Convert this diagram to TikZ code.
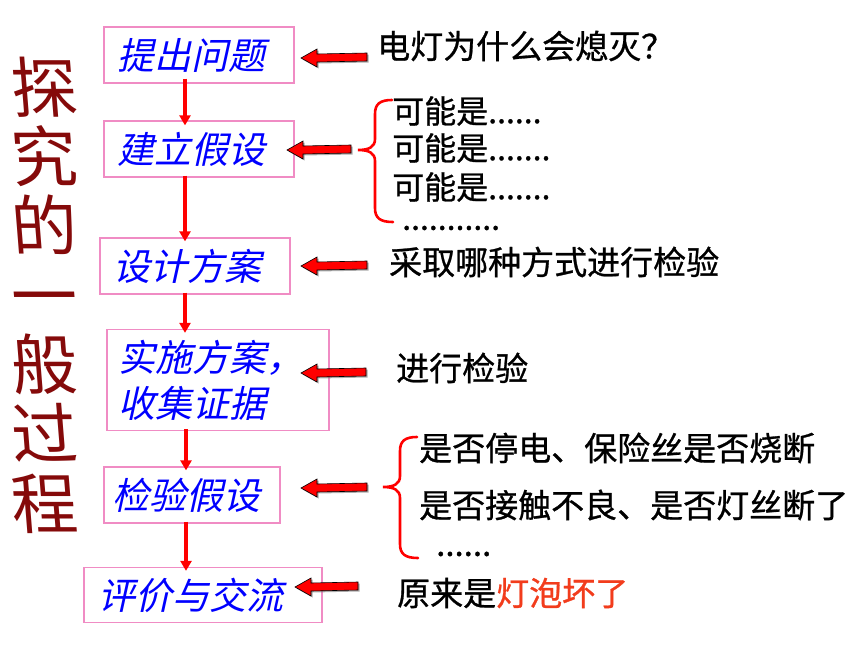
\documentclass[tikz,border=0pt]{standalone}
\usepackage{fontspec}
\usetikzlibrary{arrows.meta,calc,shadows}
\newfontfamily\cjk[FakeBold=0.8]{Noto Sans CJK SC}
\newfontfamily\cjkit[FakeSlant=0.22]{Noto Sans CJK SC}
\newfontfamily\cjktitle[FakeSlant=-0.08]{Noto Sans CJK SC}
\definecolor{boxpink}{HTML}{F08CC4}
\definecolor{boxblue}{HTML}{0000FF}
\definecolor{arrred}{HTML}{FF0000}
\definecolor{titlered}{HTML}{850A0A}
\definecolor{answer}{HTML}{F23C1C}
\newcommand\harrow[2]{%
  \draw[fill=arrred, draw=black, line width=0.6pt, line join=miter,
        drop shadow={shadow xshift=1.5pt, shadow yshift=-1.5pt, fill=black!55, opacity=0.6}]
    (#1) -- ($(#1)+(16,-9)$) -- ($(#1)+(16,-4)$) -- ($(#2)+(0,-4)$) -- ($(#2)+(0,4)$)
    -- ($(#1)+(16,4)$) -- ($(#1)+(16,9)$) -- cycle;}
\begin{document}
\begin{tikzpicture}[x=1pt,y=-1pt,
  stepbox/.style={draw=boxpink, line width=1.3pt, inner sep=0pt, align=left,
    font=\cjkit\fontsize{37}{46}\selectfont, text=boxblue},
  varrow/.style={draw=arrred, line width=4.5pt, -{Triangle[length=10pt,width=11pt]}},
  rtext/.style={anchor=west, inner sep=0pt, font=\cjk\fontsize{33}{38}\selectfont, text=black},
  htext/.style={rtext, font=\cjk\fontsize{32}{36}\selectfont},
  brace/.style={draw=arrred, line width=2.6pt, line cap=round},
  title/.style={align=center, inner sep=0pt, text=titlered,
    font=\cjktitle\fontsize{66}{69.3}\selectfont}]
\useasboundingbox (0,0) rectangle (860,645);
\fill[white] (0,0) rectangle (860,645);

% title
\node[title] (title) at (46,295) {探\\究\\的\\一\\般\\过\\程};

% step boxes
\node[stepbox, minimum width=190, minimum height=56] (b1) at (199,55) {提出问题\hspace*{16pt}};
\node[stepbox, minimum width=190, minimum height=56] (b2) at (199,149) {建立假设\hspace*{16pt}};
\node[stepbox, minimum width=190, minimum height=56] (b3) at (195,266) {设计方案\hspace*{16pt}};
\node[stepbox, minimum width=222, minimum height=101] (b4) at (218,380) {实施方案，\hspace*{14pt}\\收集证据};
\node[stepbox, minimum width=176, minimum height=56] (b5) at (192,495) {检验假设\hspace*{12pt}};
\node[stepbox, minimum width=238, minimum height=55] (b6) at (203,595) {评价与交流\hspace*{24pt}};

% vertical arrows
\coordinate (ax) at (185,0);
\draw[varrow] ($(b1.south -| ax)+(0,-5)$) -- ($(b2.north -| ax)+(0,5)$);
\draw[varrow] ($(b2.south -| ax)+(0,-2)$) -- ($(b3.north -| ax)+(0,4)$);
\draw[varrow] ($(b3.south -| ax)+(0,-2)$) -- ($(b4.north -| ax)+(0,4)$);
\draw[varrow] ($(b4.south -| ax)+(1,-2)$) -- ($(b5.north -| ax)+(1,4)$);
\draw[varrow] ($(b5.south -| ax)+(1,-2)$) -- ($(b6.north -| ax)+(1,4)$);

% right texts
\node[rtext] (q) at (377,46) {电灯为什么会熄灭？};
\node[htext] (h1) at (392,111) {可能是......};
\node[htext] (h2) at (392,148) {可能是.......};
\node[htext] (h3) at (392,187) {可能是.......};
\node[htext] (h4) at (402,228) {...........};
\node[rtext] (d) at (389,262) {采取哪种方式进行检验};
\node[rtext] (e) at (396,368) {进行检验};
\node[rtext] (c1) at (419,448) {是否停电、保险丝是否烧断};
\node[rtext] (c2) at (419,505) {是否接触不良、是否灯丝断了};
\node[rtext] (c3) at (436,554) {......};
\node[rtext] (r) at (397,593) {原来是\textcolor{answer}{灯泡坏了}};

% braces
\draw[brace] (392,100) .. controls (380,100) and (375,104) .. (375,114) -- (375,139)
  .. controls (375,147) and (369,150) .. (358,150)
  .. controls (369,150) and (375,153) .. (375,161) -- (375,208)
  .. controls (375,218) and (380,222) .. (393,222);
\draw[brace] (417,437) .. controls (405,437) and (400,441) .. (400,451) -- (400,476)
  .. controls (400,484) and (394,487) .. (383,487)
  .. controls (394,487) and (400,490) .. (400,498) -- (400,544)
  .. controls (400,554) and (405,558) .. (418,558);

% horizontal block arrows
\coordinate (t1) at (301,58);  \coordinate (s1) at (367,57);
\coordinate (t2) at (287,150); \coordinate (s2) at (351,149);
\coordinate (t3) at (301,266); \coordinate (s3) at (367,265);
\coordinate (t4) at (301,373); \coordinate (s4) at (366,372);
\coordinate (t5) at (301,488); \coordinate (s5) at (367,487);
\coordinate (t6) at (295,587); \coordinate (s6) at (358,586);
\harrow{t1}{s1}
\harrow{t2}{s2}
\harrow{t3}{s3}
\harrow{t4}{s4}
\harrow{t5}{s5}
\harrow{t6}{s6}
\end{tikzpicture}
\end{document}
